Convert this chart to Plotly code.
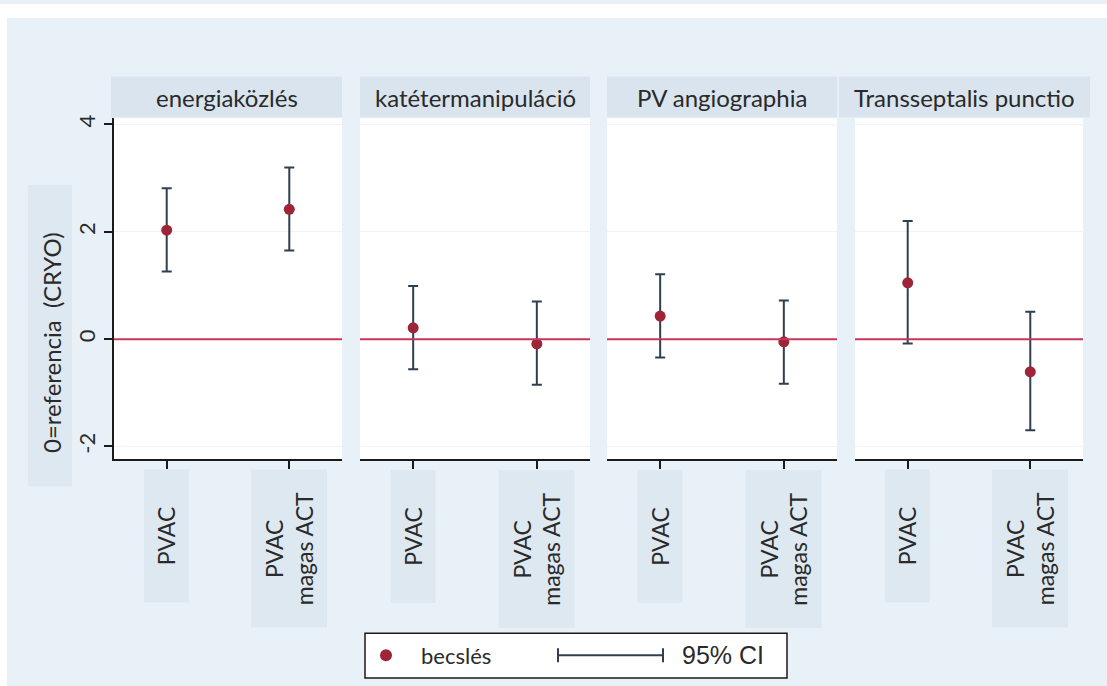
import plotly.graph_objects as go

# ---------------- data ----------------
panels = ["energiaközlés", "katétermanipuláció", "PV angiographia", "Transseptalis punctio"]
groups = ["PVAC", "PVAC<br>magas ACT"]
positions = [1, 2]
estimate = [[2.03, 2.42], [0.21, -0.09], [0.43, -0.05], [1.05, -0.61]]
ci_low = [[1.26, 1.65], [-0.56, -0.85], [-0.34, -0.83], [-0.08, -1.70]]
ci_high = [[2.81, 3.20], [0.99, 0.70], [1.21, 0.72], [2.20, 0.51]]
y_ticks = [-2, 0, 2, 4]
y_ticktext = ["-2", "0", "2", "4"]
y_title = "0=referencia \u00a0(CRYO)"
legend_labels = ["becslés", "95% CI"]

# ---------------- style ----------------
W, H = 1107, 686
BG = "#E8F1F7"
STRIP = "#D9E4EE"
LBLBOX = "#DEE8F1"
MARK = "#9E2437"
BAR = "#2F3F4F"
REF = "#C6375C"
TXT = "#2a2a2a"
FONT = "Lato"

def px(x):
    return x / W

def py(y):
    return 1 - y / H

plot_x = [(114, 342), (360, 590), (607, 837), (855, 1083)]
strip_x = [(111, 342), (360, 590), (607, 837), (839, 1090)]
y_dom = [py(458), py(115)]
y_range = [-2.24, 4.115]
x_range = [0.57, 2.43]

fig = go.Figure()
shapes = []
annotations = []

for i, name in enumerate(panels):
    ax = "" if i == 0 else str(i + 1)
    fig.add_trace(go.Scatter(
        x=positions, y=estimate[i],
        mode="markers",
        marker=dict(color=MARK, size=11),
        error_y=dict(
            type="data", symmetric=False,
            array=[h - e for h, e in zip(ci_high[i], estimate[i])],
            arrayminus=[e - l for e, l in zip(estimate[i], ci_low[i])],
            color=BAR, thickness=2, width=5,
        ),
        xaxis="x" + ax, yaxis="y" + ax,
        showlegend=False, hoverinfo="skip",
    ))
    fig.update_layout(**{
        "xaxis" + ax: dict(
            domain=[px(plot_x[i][0]), px(plot_x[i][1])],
            range=x_range, anchor="y" + ax,
            tickvals=positions, showticklabels=False,
            ticks="outside", ticklen=8, tickwidth=2, tickcolor="#1a1a1a",
            showline=True, linecolor="#1a1a1a", linewidth=2,
            showgrid=False, zeroline=False, fixedrange=True,
        ),
        "yaxis" + ax: dict(
            domain=y_dom, range=y_range, anchor="x" + ax,
            tickvals=y_ticks, ticktext=y_ticktext,
            showgrid=True, gridcolor="#EDF3F8", gridwidth=1,
            zeroline=False, fixedrange=True,
            showline=(i == 0), linecolor="#1a1a1a", linewidth=2,
            ticks="outside" if i == 0 else "", ticklen=8, tickwidth=2, tickcolor="#1a1a1a",
            showticklabels=(i == 0), tickangle=-90,
            tickfont=dict(family=FONT, size=22, color=TXT),
        ),
    })
    # reference line at 0
    shapes.append(dict(type="line", xref="x" + ax + " domain", x0=0, x1=1,
                       yref="y" + ax, y0=0, y1=0,
                       line=dict(color=REF, width=2), layer="above"))
    # strip
    shapes.append(dict(type="rect", xref="paper", yref="paper",
                       x0=px(strip_x[i][0]), x1=px(strip_x[i][1]),
                       y0=py(114), y1=py(73), fillcolor=STRIP, line=dict(width=0),
                       layer="below"))
    annotations.append(dict(text=name, xref="paper", yref="paper",
                            x=px((strip_x[i][0] + strip_x[i][1]) / 2), y=py(94),
                            xanchor="center", yanchor="middle", showarrow=False,
                            font=dict(family=FONT, size=24, color=TXT)))
    # category labels with boxes
    for j, g in enumerate(groups):
        two = "<br>" in g
        annotations.append(dict(
            text=g, xref="x" + ax, x=positions[j], yref="paper", y=py(468),
            xanchor="center", yanchor="top", showarrow=False, textangle=-90,
            align="center", bgcolor=LBLBOX, borderpad=0,
            width=157 if two else 132, height=75 if two else 44,
            font=dict(family=FONT, size=23, color=TXT),
        ))

# white border at top and left (outside graph region)
shapes.append(dict(type="rect", xref="paper", yref="paper", x0=0, x1=1, y0=py(14), y1=1,
                   fillcolor="white", line=dict(width=0), layer="below"))
shapes.append(dict(type="rect", xref="paper", yref="paper", x0=0, x1=px(7), y0=0, y1=1,
                   fillcolor="white", line=dict(width=0), layer="below"))

# y title box + text
shapes.append(dict(type="rect", xref="paper", yref="paper", x0=px(28), x1=px(72),
                   y0=py(485), y1=py(182), fillcolor=LBLBOX, line=dict(width=0), layer="below"))
annotations.append(dict(text=y_title, xref="paper", yref="paper", x=px(51), y=py(341),
                        xanchor="center", yanchor="middle", textangle=-90, showarrow=False,
                        font=dict(family=FONT, size=24, color=TXT)))

# legend (drawn manually)
shapes.append(dict(type="rect", xref="paper", yref="paper", x0=px(365), x1=px(787),
                   y0=py(678), y1=py(633), fillcolor="white",
                   line=dict(color="#1a1a1a", width=1.5), layer="above"))
shapes.append(dict(type="circle", xref="paper", yref="paper", x0=px(380), x1=px(392),
                   y0=py(661), y1=py(649), fillcolor=MARK, line=dict(width=0), layer="above"))
annotations.append(dict(text=legend_labels[0], xref="paper", yref="paper", x=px(419), y=py(655),
                        xanchor="left", yanchor="middle", showarrow=False,
                        font=dict(family=FONT, size=22, color=TXT)))
shapes.append(dict(type="line", xref="paper", yref="paper", x0=px(558), x1=px(663),
                   y0=py(655), y1=py(655), line=dict(color=BAR, width=2), layer="above"))
for cx in (558, 663):
    shapes.append(dict(type="line", xref="paper", yref="paper", x0=px(cx), x1=px(cx),
                       y0=py(662), y1=py(648), line=dict(color=BAR, width=2), layer="above"))
annotations.append(dict(text=legend_labels[1], xref="paper", yref="paper", x=px(680), y=py(655),
                        xanchor="left", yanchor="middle", showarrow=False,
                        font=dict(family="Liberation Sans", size=25, color=TXT)))

fig.update_layout(
    width=W, height=H, margin=dict(l=0, r=0, t=0, b=0),
    paper_bgcolor=BG, plot_bgcolor="white",
    shapes=shapes, annotations=annotations, showlegend=False,
    font=dict(family=FONT, color=TXT),
)

fig.write_html("out.html", config={"displayModeBar": False},
               post_script="document.body.style.margin='0';document.body.style.overflow='hidden';")
